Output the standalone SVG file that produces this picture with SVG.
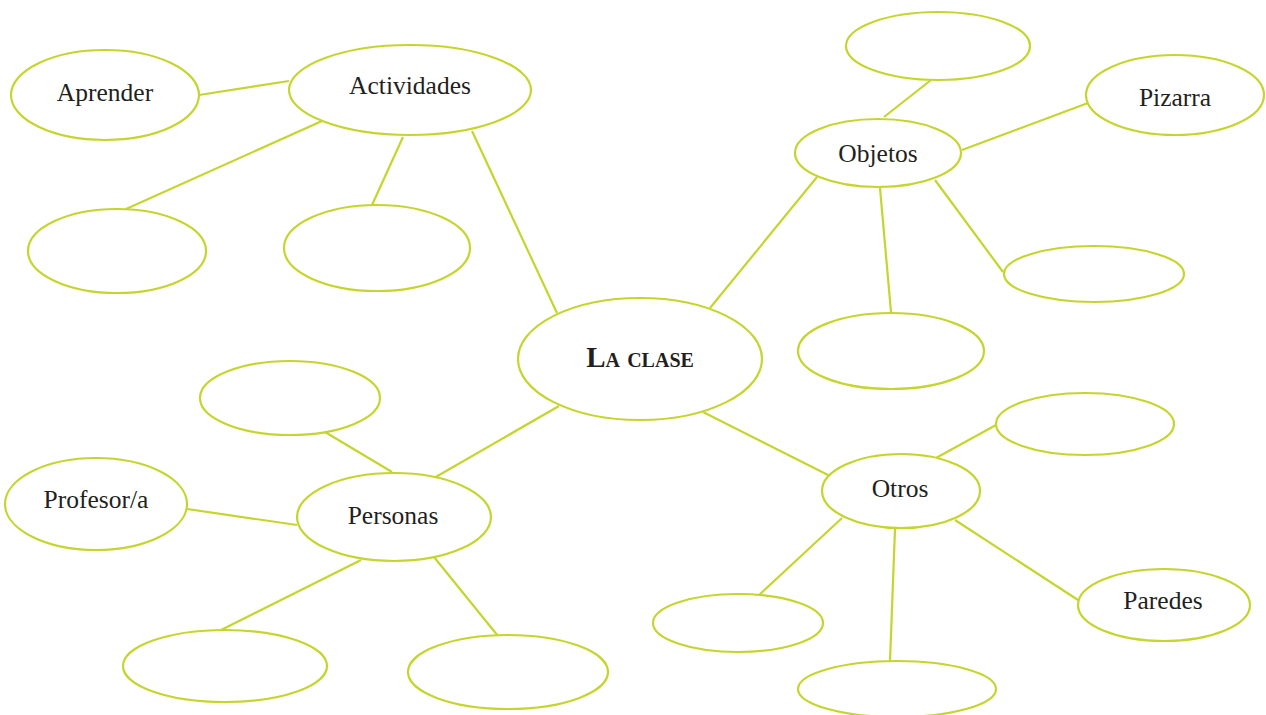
<svg xmlns="http://www.w3.org/2000/svg" width="1266" height="715" viewBox="0 0 1266 715">
<style>
.n{fill:#fff;stroke:#c5d52e;stroke-width:2.2}
.c line{stroke:#c5d52e;stroke-width:2.2}
.t{font-family:"Liberation Serif","DejaVu Serif",serif;font-size:25.5px;fill:#231f20;text-anchor:middle}
.m{font-family:"Liberation Serif","DejaVu Serif",serif;font-size:29px;font-weight:bold;font-variant:small-caps;fill:#231f20;text-anchor:middle}
</style>
<rect width="1266" height="715" fill="#fff"/>
<g class="c" id="connectors">
<line x1="199" y1="95" x2="289" y2="81"/>
<line x1="322" y1="121" x2="126" y2="209"/>
<line x1="403" y1="137" x2="372" y2="205"/>
<line x1="472" y1="131" x2="557" y2="313"/>
<line x1="710" y1="308" x2="817" y2="177"/>
<line x1="884" y1="117" x2="931" y2="80"/>
<line x1="962" y1="150" x2="1088" y2="103"/>
<line x1="880" y1="188" x2="891" y2="312"/>
<line x1="935" y1="180" x2="1003" y2="272"/>
<line x1="703" y1="412" x2="840" y2="481"/>
<line x1="936" y1="458" x2="996" y2="425"/>
<line x1="955" y1="520" x2="1078" y2="600"/>
<line x1="895" y1="529" x2="890" y2="661"/>
<line x1="842" y1="518" x2="758" y2="596"/>
<line x1="559" y1="406" x2="434" y2="478"/>
<line x1="325" y1="432" x2="392" y2="472"/>
<line x1="187" y1="509" x2="297" y2="525"/>
<line x1="361" y1="560" x2="221" y2="630"/>
<line x1="434" y1="557" x2="498" y2="636"/>
</g>
<g id="aprender"><ellipse class="n" cx="105" cy="95" rx="94" ry="45"/><text class="t" x="105" y="101">Aprender</text></g>
<g id="actividades"><ellipse class="n" cx="410" cy="90" rx="121" ry="45"/><text class="t" x="410" y="94">Actividades</text></g>
<g id="act-empty1"><ellipse class="n" cx="117" cy="251" rx="89" ry="42"/></g>
<g id="act-empty2"><ellipse class="n" cx="377" cy="248" rx="93" ry="43"/></g>
<g id="la-clase"><ellipse class="n" cx="640" cy="359" rx="122" ry="61"/><text class="m" x="640" y="367">La clase</text></g>
<g id="obj-empty-top"><ellipse class="n" cx="938" cy="46" rx="92" ry="34"/></g>
<g id="pizarra"><ellipse class="n" cx="1175" cy="95" rx="89" ry="40"/><text class="t" x="1175" y="106">Pizarra</text></g>
<g id="objetos"><ellipse class="n" cx="878" cy="153" rx="83" ry="34"/><text class="t" x="878" y="162">Objetos</text></g>
<g id="obj-empty-right"><ellipse class="n" cx="1094" cy="274" rx="90" ry="28"/></g>
<g id="obj-empty-below"><ellipse class="n" cx="891" cy="351" rx="93" ry="38"/></g>
<g id="otros-empty-top"><ellipse class="n" cx="1085" cy="424" rx="89" ry="31"/></g>
<g id="otros"><ellipse class="n" cx="901" cy="491" rx="79" ry="37"/><text class="t" x="900" y="497">Otros</text></g>
<g id="paredes"><ellipse class="n" cx="1164" cy="605" rx="86" ry="36"/><text class="t" x="1163" y="609">Paredes</text></g>
<g id="otros-empty-left"><ellipse class="n" cx="738" cy="623" rx="85" ry="29"/></g>
<g id="otros-empty-bottom"><ellipse class="n" cx="897" cy="689" rx="99" ry="28"/></g>
<g id="per-empty-top"><ellipse class="n" cx="290" cy="398" rx="90" ry="37"/></g>
<g id="personas"><ellipse class="n" cx="394" cy="517" rx="97" ry="44"/><text class="t" x="393" y="524">Personas</text></g>
<g id="profesor"><ellipse class="n" cx="96" cy="504" rx="91" ry="46"/><text class="t" x="96" y="508">Profesor/a</text></g>
<g id="per-empty-left"><ellipse class="n" cx="225" cy="666" rx="102" ry="36"/></g>
<g id="per-empty-right"><ellipse class="n" cx="508" cy="672" rx="100" ry="37"/></g>
</svg>
